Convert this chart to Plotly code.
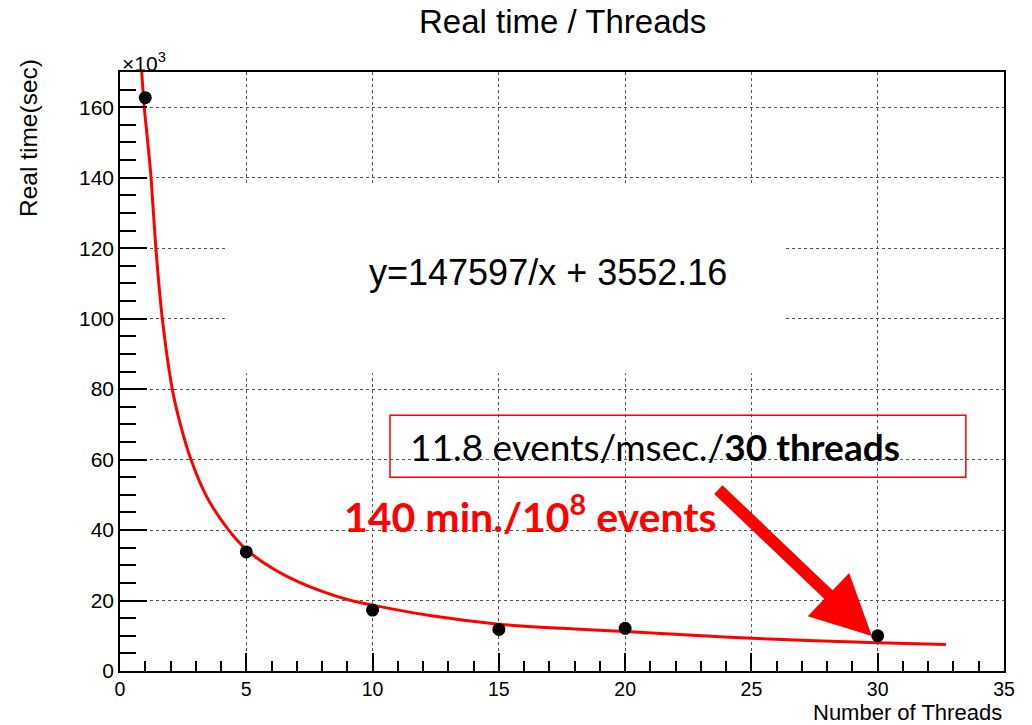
import plotly.graph_objects as go

# Measured data points (threads, real time in 10^3 sec)
threads = [1, 5, 10, 15, 20, 30]
real_time = [162.7, 33.8, 17.3, 11.8, 12.1, 10.0]

# Fit curve (x, y in 10^3 sec)
fit_x = [0.86, 0.96, 1.1, 1.23, 1.42, 1.675, 2.07, 2.38, 2.81, 3.43, 4.25, 5.0, 6.0, 7.0, 8.0, 9.0, 10.0, 12.4, 15.0, 17.5, 20.0, 22.5, 25.0, 27.5, 30.0, 32.7]
fit_y = [170, 160, 150, 140, 120, 100, 80, 70.3, 60, 49.5, 40.5, 34.5, 29.3, 25.5, 22.6, 20.3, 18.7, 15.6, 13.3, 12.1, 11.2, 10.2, 9.3, 8.6, 8.0, 7.5]

x_ticks = [0, 5, 10, 15, 20, 25, 30, 35]
y_ticks = [0, 20, 40, 60, 80, 100, 120, 140, 160]

title_text = "Real time / Threads"
x_title = "Number of Threads"
y_title = "Real time(sec)"
eq_text = "y=147597/x + 3552.16"
box_text = "11.8 events/msec./<b>30 threads</b>"
red_text = "<b>140 min./10<sup>8</sup> events</b>"

fig = go.Figure()
fig.add_trace(go.Scatter(x=fit_x, y=fit_y, mode="lines",
                         line=dict(color="#ff0000", width=3, shape="spline", smoothing=0.8),
                         hoverinfo="skip", showlegend=False))
fig.add_trace(go.Scatter(x=threads, y=real_time, mode="markers",
                         marker=dict(color="black", size=13),
                         showlegend=False))

helv = "Liberation Sans, Arial, sans-serif"
cal = "Lato, Carlito, sans-serif"

fig.update_layout(
    width=1032, height=725,
    margin=dict(l=120, r=28, t=72, b=54),
    paper_bgcolor="white", plot_bgcolor="white",
    font=dict(family=helv, color="black", size=21),
    showlegend=False,
    xaxis=dict(range=[0, 35], tickvals=x_ticks, ticks="inside", ticklen=18, tickwidth=1.5,
               tickcolor="black", showline=True, linecolor="black", linewidth=1.5, mirror=True,
               showgrid=True, gridcolor="#555555", griddash="dot", gridwidth=1,
               zeroline=False, tickfont=dict(size=19.5, family=helv), ticklabelstandoff=0,
               minor=dict(dtick=1, ticks="inside", ticklen=10, tickwidth=1.5, tickcolor="black", showgrid=False)),
    yaxis=dict(range=[0, 170], tickvals=y_ticks, ticks="inside", ticklen=27, tickwidth=1.5,
               tickcolor="black", showline=True, linecolor="black", linewidth=1.5, mirror=True,
               showgrid=True, gridcolor="#555555", griddash="dot", gridwidth=1,
               zeroline=False, tickfont=dict(size=21, family=helv),
               minor=dict(dtick=5, ticks="inside", ticklen=16, tickwidth=1.5, tickcolor="black", showgrid=False)),
    shapes=[
        # white pave behind equation, hides grid
        dict(type="rect", xref="x", yref="y", x0=4.28, x1=26.3, y0=84.5, y1=138.4,
             fillcolor="white", line=dict(width=0), layer="between"),
        # red box around text
        dict(type="rect", xref="x", yref="y", x0=10.69, x1=33.49, y0=55.0, y1=72.6,
             fillcolor="rgba(0,0,0,0)", line=dict(color="#ff0000", width=1.5), layer="above"),
    ],
    annotations=[
        dict(text=title_text, xref="paper", yref="paper", x=(562 - 120) / 884, y=(671 - 22) / 599,
             xanchor="center", yanchor="middle", showarrow=False, font=dict(size=33, family=helv)),
        dict(text=x_title, xref="paper", yref="paper", x=1.0, y=(671 - 727) / 599,
             xanchor="right", yanchor="bottom", showarrow=False, font=dict(size=22, family=helv)),
        dict(text=y_title, xref="paper", yref="paper", x=(28 - 120) / 884, y=(671 - 138) / 599,
             xanchor="center", yanchor="middle", showarrow=False, textangle=-90, font=dict(size=24.5, family=helv)),
        dict(text="×10<sup>3</sup>", xref="paper", yref="paper", x=0.0, y=(671 - 62) / 599,
             xanchor="left", yanchor="middle", showarrow=False, font=dict(size=21, family=helv)),
        dict(text=eq_text, xref="x", yref="y", x=16.95, y=113.2, xanchor="center", yanchor="middle",
             showarrow=False, font=dict(size=36, family=helv)),
        dict(text=box_text, xref="x", yref="y", x=11.4, y=63.8, xanchor="left", yanchor="middle",
             showarrow=False, font=dict(size=37, family=cal, color="black")),
        dict(text=red_text, xref="x", yref="y", x=8.79, y=44.5, xanchor="left", yanchor="middle",
             showarrow=False, font=dict(size=41, family=cal, color="#ff0000")),
        dict(text="", x=29.77, y=9.93, xref="x", yref="y", ax=23.63, ay=51.9, axref="x", ayref="y",
             showarrow=True, arrowhead=2, arrowsize=1.0, arrowwidth=12, arrowcolor="#ff0000"),
    ],
)

fig.write_html("out.html")
